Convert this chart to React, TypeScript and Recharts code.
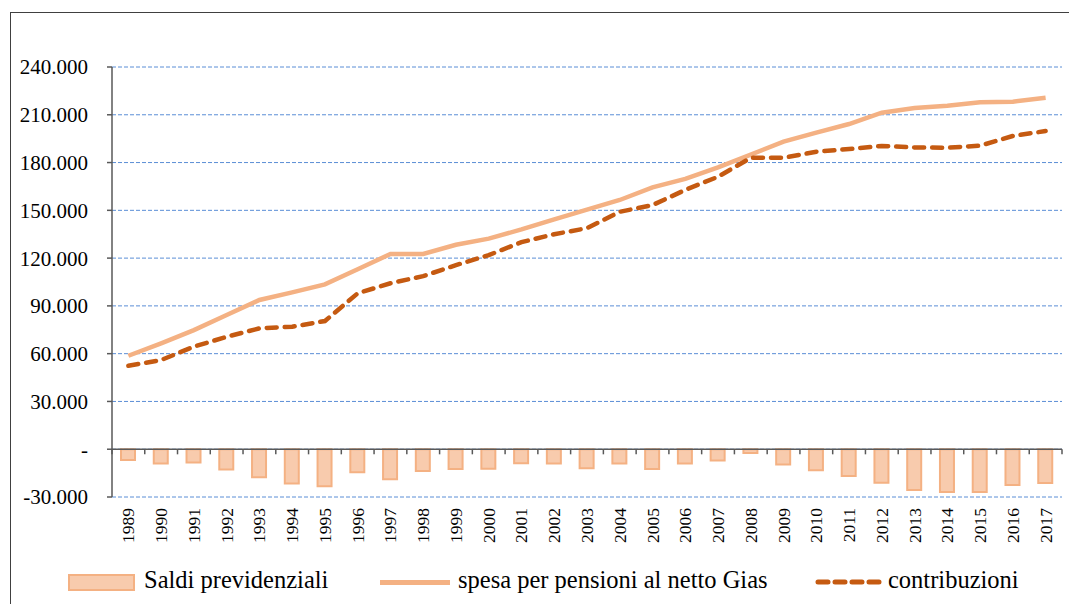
import React from 'react';
import { ComposedChart, Bar, Line, XAxis, YAxis, CartesianGrid, ReferenceLine, Legend } from 'recharts';

const years = ['1989', '1990', '1991', '1992', '1993', '1994', '1995', '1996', '1997', '1998', '1999', '2000', '2001', '2002', '2003', '2004', '2005', '2006', '2007', '2008', '2009', '2010', '2011', '2012', '2013', '2014', '2015', '2016', '2017'];
const saldi = [-6700, -9000, -8400, -12800, -17600, -21600, -23300, -14500, -18900, -13600, -12400, -12200, -8800, -9000, -12000, -9000, -12400, -9000, -7100, -2300, -9600, -13200, -16800, -21000, -25600, -26900, -26900, -22400, -21200];
const spesa = [58700, 66500, 74800, 84300, 93700, 98500, 103500, 113000, 122600, 122600, 128400, 132200, 138000, 144300, 150500, 156500, 164400, 169700, 177000, 185000, 193100, 198800, 204200, 211300, 214200, 215700, 217800, 218200, 220700];
const contributi = [52400, 56000, 64400, 70600, 75900, 76900, 80500, 97900, 104200, 108700, 115600, 121900, 130000, 135000, 138800, 149100, 153300, 162800, 171100, 183000, 183000, 186800, 188500, 190400, 189500, 189300, 190600, 196700, 199800];
const yTicks = [-30000, 0, 30000, 60000, 90000, 120000, 150000, 180000, 210000, 240000];

const data = years.map((y, i) => ({ year: y, saldi: saldi[i], spesa: spesa[i], contributi: contributi[i] }));

const FONT = 'Liberation Serif';
const BAR_FILL = '#F8CBAD';
const LIGHT = '#F4B183';
const DARK = '#C55A11';
const AXIS = '#595959';

const fmtY = (v: number) => (v === 0 ? '-' : `${v / 1000}.000`);

const YearTick = (props: any) => {
  const { x, y, payload } = props;
  return (
    <g transform={`translate(${x},${y + 3}) rotate(-90)`}>
      <text x={0} y={0} textAnchor="end" dominantBaseline="central" fontSize={17.5} style={{ fontFamily: FONT }} fill="#000">
        {payload.value}
      </text>
    </g>
  );
};

const LegendBox = () => (
  <div style={{ position: 'relative', height: 36, width: 1069, fontFamily: FONT, fontSize: 24.5, color: '#000' }}>
    <div style={{ position: 'absolute', left: 68, top: 10, width: 63, height: 13, background: BAR_FILL, border: `2px solid ${LIGHT}` }} />
    <div style={{ position: 'absolute', left: 144, top: 1, lineHeight: '30px' }}>Saldi previdenziali</div>
    <div style={{ position: 'absolute', left: 380, top: 16, width: 70, height: 5, background: LIGHT }} />
    <div style={{ position: 'absolute', left: 458, top: 1, lineHeight: '30px' }}>spesa per pensioni al netto Gias</div>
    <svg style={{ position: 'absolute', left: 815, top: 13 }} width={68} height={10}>
      <line x1={3} y1={5} x2={66} y2={5} stroke={DARK} strokeWidth={5} strokeDasharray="10 7" strokeLinecap="round" />
    </svg>
    <div style={{ position: 'absolute', left: 888, top: 1, lineHeight: '30px' }}>contribuzioni</div>
  </div>
);

export default function App() {
  return (
    <div style={{ position: 'absolute', left: 0, top: 0, width: 1069, height: 604, overflow: 'hidden', background: '#fff', fontFamily: FONT }}>
      <div style={{ position: 'absolute', left: 10, top: 12, width: 1200, height: 700, borderLeft: '1px solid #404040', borderTop: '1px solid #404040' }} />
      <ComposedChart width={1069} height={604} data={data} margin={{ top: 67, right: 7, bottom: 4, left: 0 }} barSize={14} style={{ fontFamily: FONT }}>
        <CartesianGrid vertical={false} stroke="#5B8ED6" strokeDasharray="4 2" />
        <XAxis dataKey="year" axisLine={false} tickLine={false} interval={0} height={67} tick={<YearTick />} />
        <YAxis
          width={112}
          domain={[-30000, 240000]}
          ticks={yTicks}
          tickFormatter={fmtY}
          interval={0}
          axisLine={{ stroke: AXIS, strokeWidth: 1.5 }}
          tickLine={{ stroke: AXIS, strokeWidth: 1.5 }}
          tickSize={5}
          tickMargin={19}
          tick={{ fill: '#000', fontSize: 21, style: { fontFamily: FONT } }}
        />
        <Bar dataKey="saldi" fill={BAR_FILL} stroke={LIGHT} strokeWidth={2} isAnimationActive={false} />
        <ReferenceLine y={0} stroke={AXIS} strokeWidth={1.5} />
        {years.map((y) => (
          <ReferenceLine key={`t-${y}`} segment={[{ x: y, y: 0 }, { x: y, y: -3200 }]} position="start" stroke={AXIS} strokeWidth={1.5} />
        ))}
        <ReferenceLine segment={[{ x: '2017', y: 0 }, { x: '2017', y: -3200 }]} position="end" stroke={AXIS} strokeWidth={1.5} />
        <Line dataKey="spesa" stroke={LIGHT} strokeWidth={4.5} dot={false} isAnimationActive={false} />
        <Line dataKey="contributi" stroke={DARK} strokeWidth={4.5} strokeDasharray="10 8" strokeLinecap="round" dot={false} isAnimationActive={false} />
        <Legend verticalAlign="bottom" content={<LegendBox />} wrapperStyle={{ left: 0, width: 1069, height: 36 }} />
      </ComposedChart>
    </div>
  );
}
